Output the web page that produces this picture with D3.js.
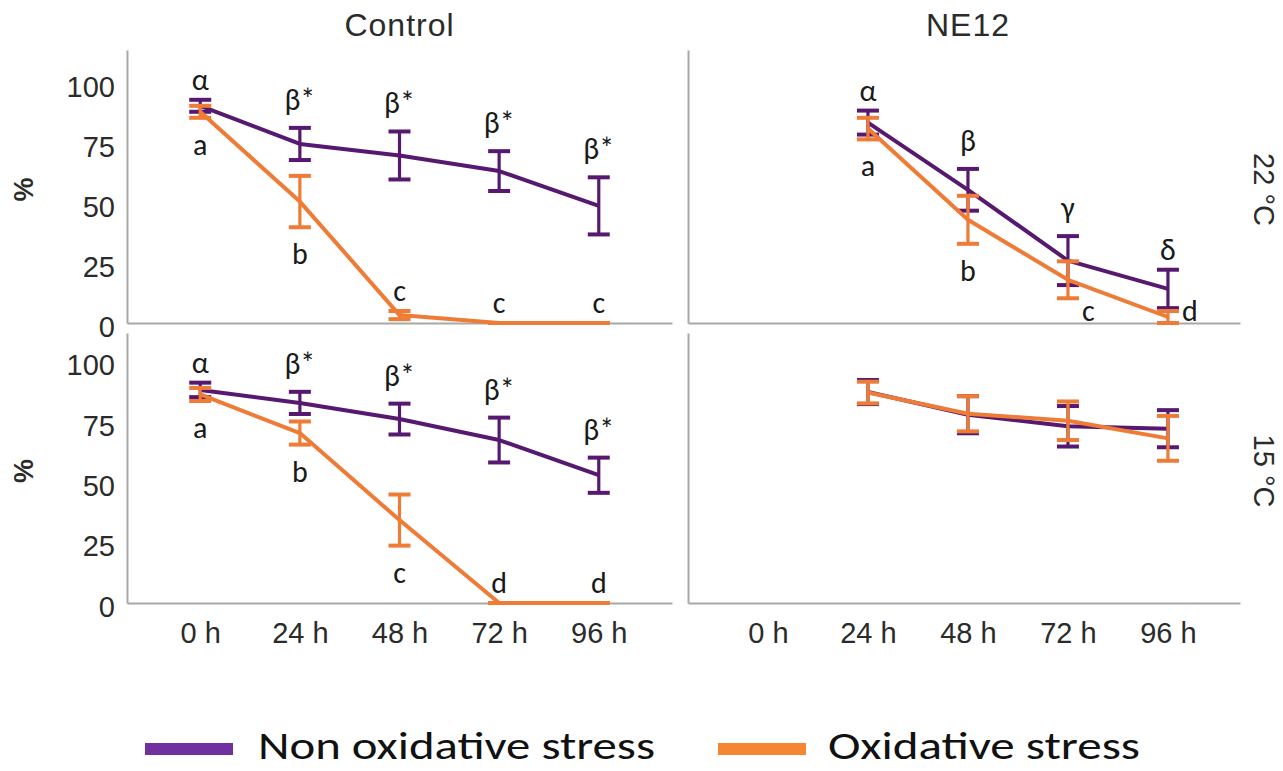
<!DOCTYPE html>
<html>
<head>
<meta charset="utf-8">
<script src="https://cdn.jsdelivr.net/npm/d3@7"></script>
<style>
  html, body { margin: 0; padding: 0; background: #ffffff; }
  svg { display: block; }
</style>
</head>
<body>
<svg id="chart" width="1283" height="771"></svg>
<script>
// ---------- DATA ----------
const times = ["0 h", "24 h", "48 h", "72 h", "96 h"];
const yTicks = [0, 25, 50, 75, 100];
const columnTitles = ["Control", "NE12"];
const rowTitles = ["22 °C", "15 °C"];
const seriesNames = ["Non oxidative stress", "Oxidative stress"];

// Control, 22 °C
const ctrl22Non    = [90.5, 74.6, 69.8, 63.3, 48.8];
const ctrl22NonErr = [2.5, 6.7, 10.0, 8.3, 11.9];
const ctrl22Ox     = [88.0, 50.6, 3.3, 0, 0];
const ctrl22OxErr  = [2.5, 10.7, 1.7, 0, 0];
// NE12, 22 °C
const ne22Non    = [null, 83.5, 55.5, 26.0, 14.2];
const ne22NonErr = [null, 5.0, 8.7, 10.2, 8.0];
const ne22Ox     = [null, 81.0, 43.0, 18.0, 2.5];
const ne22OxErr  = [null, 4.5, 10.0, 7.7, 2.5];
// Control, 15 °C
const ctrl15Non    = [88.4, 83.0, 76.3, 67.6, 53.0];
const ctrl15NonErr = [3.0, 4.6, 6.4, 9.3, 7.3];
const ctrl15Ox     = [86.5, 70.5, 34.4, 0, 0];
const ctrl15OxErr  = [2.7, 4.8, 10.6, 0, 0];
// NE12, 15 °C
const ne15Non    = [null, 87.5, 78.1, 73.3, 72.3];
const ne15NonErr = [null, 5.0, 7.7, 8.4, 7.7];
const ne15Ox     = [null, 87.3, 78.5, 75.6, 68.3];
const ne15OxErr  = [null, 4.5, 7.3, 8.0, 9.3];

// significance letters: [text, time index, series (0 non / 1 ox), placement]
const ctrl22Letters = [["α",0,0,"above"],["a",0,1,"below"],["β*",1,0,"above"],["β*",2,0,"above"],
  ["β*",3,0,"above"],["β*",4,0,"above"],["b",1,1,"below"],["c",2,1,"above"],["c",3,1,"above"],["c",4,1,"above"]];
const ne22Letters = [["α",1,0,"above"],["a",1,1,"below"],["β",2,0,"above"],["b",2,1,"below"],
  ["γ",3,0,"above"],["c",3,1,"right"],["δ",4,0,"above"],["d",4,1,"right"]];
const ctrl15Letters = [["α",0,0,"above"],["a",0,1,"below"],["β*",1,0,"above"],["β*",2,0,"above"],
  ["β*",3,0,"above"],["β*",4,0,"above"],["b",1,1,"below"],["c",2,1,"below"],["d",3,1,"above"],["d",4,1,"above"]];
const ne15Letters = [];

// ---------- STYLE ----------
const colors = ["#57196f", "#ee7b36"];
const legendColors = ["#7030a0", "#f58634"];
const axisColor = "#a8a8a8";
const textColor = "#2b2b2b";
const sansFont = "'Liberation Sans', Arial, Helvetica, sans-serif";
const letterFont = "'Carlito', Calibri, 'Open Sans', sans-serif";

const svg = d3.select("#chart");

// panel geometry
const cols = [
  {x0: 127, x1: 672, padding: 0.735, align: 0.5},
  {x0: 688, x1: 1240, padding: 0.76, align: 0.526}
];
const rows = [
  {yBottom: 323, yTop: 50, max: 113.75},
  {yBottom: 603, yTop: 333, max: 112}
];

const panels = [
  {c:0, r:0, data:[[ctrl22Non, ctrl22NonErr],[ctrl22Ox, ctrl22OxErr]], letters: ctrl22Letters},
  {c:1, r:0, data:[[ne22Non, ne22NonErr],[ne22Ox, ne22OxErr]], letters: ne22Letters},
  {c:0, r:1, data:[[ctrl15Non, ctrl15NonErr],[ctrl15Ox, ctrl15OxErr]], letters: ctrl15Letters},
  {c:1, r:1, data:[[ne15Non, ne15NonErr],[ne15Ox, ne15OxErr]], letters: ne15Letters}
];

const xScales = cols.map(c => d3.scalePoint().domain(times).range([c.x0, c.x1]).padding(c.padding).align(c.align));
const yScales = rows.map(r => d3.scaleLinear().domain([0, r.max]).range([r.yBottom, r.yTop]));

panels.forEach(p => {
  const x = xScales[p.c], y = yScales[p.r];
  const g = svg.append("g");

  // y axis
  const yAxis = d3.axisLeft(y).tickValues(p.c === 0 ? yTicks : []).tickSize(0).tickPadding(12);
  const ya = g.append("g").attr("transform", `translate(${cols[p.c].x0},0)`).call(yAxis);
  ya.select(".domain").attr("stroke", axisColor).attr("stroke-width", 2);
  ya.selectAll("text").attr("font-family", sansFont).attr("font-size", 29).attr("fill", textColor).attr("dy", "0.45em");

  // x axis
  const xAxis = d3.axisBottom(x).tickSize(0).tickPadding(19);
  const xa = g.append("g").attr("transform", `translate(0,${y(0)})`).call(xAxis);
  xa.select(".domain").attr("stroke", axisColor).attr("stroke-width", 2);
  xa.selectAll("text").attr("font-family", sansFont).attr("font-size", 29).attr("fill", textColor)
    .attr("dy", "0.71em").style("display", p.r === 1 ? null : "none");

  // series
  p.data.forEach(([vals, errs], si) => {
    const pts = times.map((t, i) => ({t, v: vals[i], e: errs[i]})).filter(d => d.v !== null);
    const line = d3.line().x(d => x(d.t)).y(d => y(d.v));
    g.append("path").datum(pts).attr("d", line).attr("fill", "none")
      .attr("stroke", colors[si]).attr("stroke-width", 4).attr("stroke-linejoin", "round");
    const eb = g.append("g").attr("stroke", colors[si]).attr("stroke-width", 3.2);
    pts.forEach(d => {
      const cx = x(d.t), cap = 11;
      eb.append("line").attr("x1", cx).attr("x2", cx).attr("y1", y(d.v + d.e)).attr("y2", y(d.v - d.e));
      eb.append("line").attr("x1", cx - cap).attr("x2", cx + cap).attr("y1", y(d.v + d.e)).attr("y2", y(d.v + d.e)).attr("stroke-width", 4);
      eb.append("line").attr("x1", cx - cap).attr("x2", cx + cap).attr("y1", y(d.v - d.e)).attr("y2", y(d.v - d.e)).attr("stroke-width", 4);
    });
  });

  // letters
  p.letters.forEach(([txt, ti, si, place]) => {
    const [vals, errs] = p.data[si];
    const v = vals[ti], e = errs[ti];
    const cx = x(times[ti]);
    const hasDesc = /[βγ]/.test(txt);
    let tx = cx, ty, anchor = "middle";
    if (place === "above") ty = y(v + e) - 10 - (hasDesc ? 8 : 0);
    else if (place === "below") ty = y(v - e) + 37;
    else { tx = cx + 14; ty = y(0) - 2; anchor = "start"; }
    g.append("text").attr("x", tx).attr("y", ty).attr("text-anchor", anchor)
      .attr("font-family", letterFont).attr("font-size", 30).attr("fill", "#1a1a1a").text(txt);
  });
});

// column titles
columnTitles.forEach((t, i) => {
  svg.append("text").attr("x", xScales[i]("48 h")).attr("y", 36).attr("text-anchor", "middle")
    .attr("font-family", sansFont).attr("font-size", 32).attr("letter-spacing", 1).attr("fill", textColor).text(t);
});

// row titles (right) and % labels (left)
rowTitles.forEach((t, i) => {
  const cy = (rows[i].yBottom + rows[i].yTop) / 2 + 3;
  svg.append("text").attr("transform", `translate(1254,${cy}) rotate(90)`).attr("text-anchor", "middle")
    .attr("font-family", sansFont).attr("font-size", 29).attr("fill", textColor).text(t);
  svg.append("text").attr("transform", `translate(33,${cy}) rotate(-90)`).attr("text-anchor", "middle")
    .attr("font-family", sansFont).attr("font-size", 27).attr("font-weight", "bold").attr("fill", textColor).text("%");
});

// legend
const legendItems = [
  {name: seriesNames[0], color: legendColors[0], sx: 145, tx: 258, len: 397},
  {name: seriesNames[1], color: legendColors[1], sx: 718, tx: 828, len: 312}
];
legendItems.forEach(it => {
  svg.append("rect").attr("x", it.sx).attr("y", 743).attr("width", 88).attr("height", 12).attr("fill", it.color);
  svg.append("text").attr("x", it.tx).attr("y", 759).attr("font-family", letterFont).attr("font-size", 38)
    .attr("fill", "#111").attr("textLength", it.len).attr("lengthAdjust", "spacingAndGlyphs").text(it.name);
});
</script>
</body>
</html>
